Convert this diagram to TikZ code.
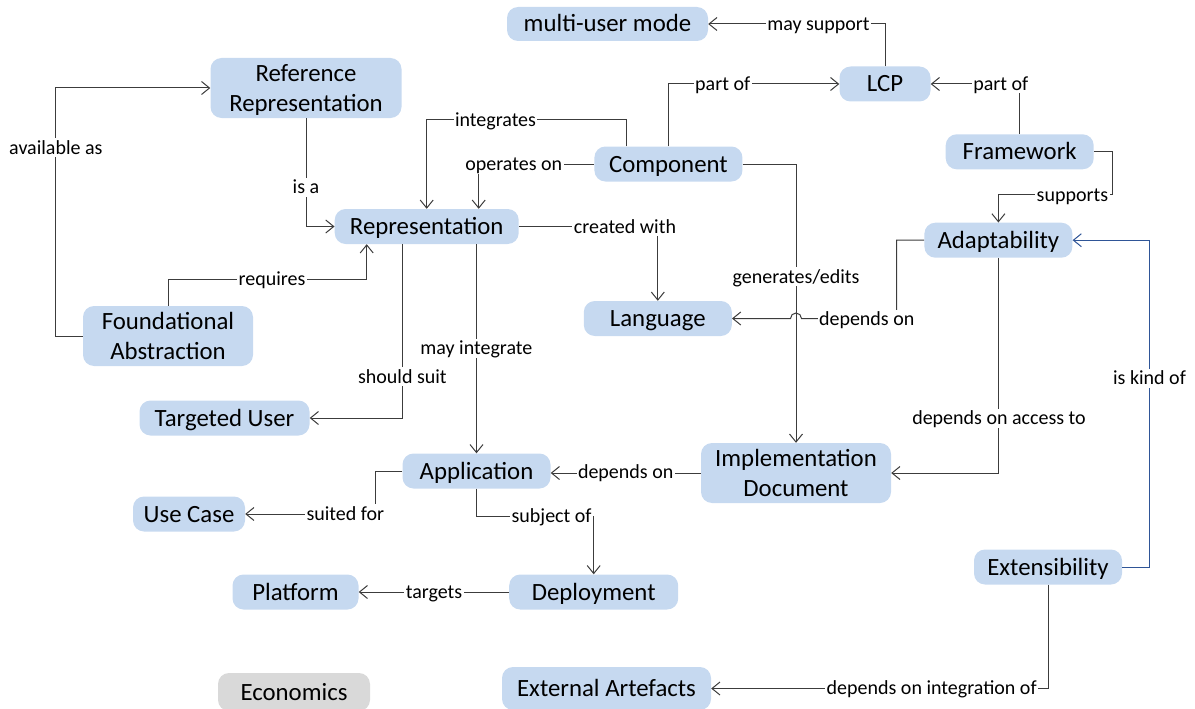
\documentclass[tikz,border=0pt]{standalone}
\usepackage{fontspec}
\setmainfont{Carlito}
\usetikzlibrary{arrows.meta,calc}
\definecolor{nodeblue}{RGB}{198,217,240}
\definecolor{ecogray}{RGB}{217,217,217}
\definecolor{edgegray}{RGB}{60,60,60}
\definecolor{edgeblue}{RGB}{47,85,151}
\newcommand\tstrut{\rule{0pt}{23pt}}
\newcommand\bstrut{\rule[-6pt]{0pt}{6pt}}
\begin{document}
\begin{tikzpicture}[x=1pt,y=-1pt,
  box/.style={fill=nodeblue, rounded corners=11pt, inner sep=0pt, align=center,
    font=\fontsize{24.8}{30}\selectfont, minimum height=35pt, minimum width=148pt},
  one/.style={text height=20pt, text depth=4pt},
  two/.style={minimum height=60pt},
  lbl/.style={fill=white, inner xsep=1.5pt, inner ysep=1pt, text height=15pt, text depth=2pt,
    font=\fontsize{20}{24}\selectfont, text=black},
  arr/.style={draw=edgegray, line width=1pt, -{Straight Barb[length=8pt,width=13pt]}},
  barr/.style={draw=edgeblue, line width=1pt, -{Straight Barb[length=8pt,width=13pt]}}
]
\useasboundingbox (0,0) rectangle (1195,709);

% nodes
\node[box,one,minimum width=201pt,minimum height=34pt] (mum) at (607.5,24) {multi-user mode};
\node[box,two,minimum width=191pt] (refrep) at (306,88) {\tstrut Reference\\Representation\bstrut};
\node[box,one,minimum width=91pt] (lcp) at (885,84) {LCP};
\node[box,one] (comp) at (668.4,164) {Component};
\node[box,one] (fw) at (1019.7,151.8) {Framework};
\node[box,one,minimum width=184pt] (rep) at (426.7,226.5) {Representation};
\node[box,one] (adapt) at (998.4,240.2) {Adaptability};
\node[box,one] (lang) at (657.8,318.5) {Language};
\node[box,two,minimum width=170pt] (fa) at (168,336) {\tstrut Foundational\\Abstraction\bstrut};
\node[box,one,minimum width=170pt] (tu) at (224.5,418) {Targeted User};
\node[box,one] (app) at (476.5,471) {Application};
\node[box,one,minimum width=112pt] (uc) at (189,514) {Use Case};
\node[box,two,minimum width=190pt] (impl) at (796,473) {\tstrut Implementation\\Document\bstrut};
\node[box,one] (ext) at (1048,567) {Extensibility};
\node[box,one,minimum width=126pt] (plat) at (295.5,592) {Platform};
\node[box,one,minimum width=169pt] (deploy) at (593.7,592) {Deployment};
\node[box,one,minimum width=152pt,minimum height=38pt,fill=ecogray] (eco) at (294,692) {Economics};
\node[box,one,minimum width=209pt,minimum height=43pt] (ea) at (606.5,688.5) {External Artefacts};

% connectors
\draw[arr] (lcp.north) |- (mum.east) node[lbl] at (818.5,24) {may support};
\draw[arr] (comp.north) |- (lcp.west) node[lbl] at (722.7,84) {part of};
\draw[arr] (fw.north) |- (lcp.east) node[lbl] at (1000.8,84) {part of};
\draw[arr] (fw.east) -- ++(19,0) |- ($(adapt.north)+(0,-27.7)$) -- (adapt.north)
  node[lbl] at (1072.4,195) {supports};
\draw[arr] ($(comp.north)+(-42.4,0)$) -- ++(0,-27) -| (rep.north)
  node[lbl] at (495.5,120) {integrates};
\draw[arr] (comp.west) -| ($(rep.north)+(52,0)$) node[lbl] at (513.8,164.3) {operates on};
\draw[arr] (refrep.south) |- (rep.west) node[lbl] at (306,187) {is a};
\draw[arr] (fa.west) -- ++(-27,0) |- (refrep.west) node[lbl] at (55.9,147.7) {available as};
\draw[arr] (fa.north) |- ($(rep.south)+(-60,35)$) -- ($(rep.south)+(-60,0)$)
  node[lbl] at (272,279) {requires};
\draw[arr] (rep.east) -| (lang.north) node[lbl] at (625,226.5) {created with};
\draw[arr] (comp.east) -| (impl.north) node[lbl] at (796,276.7) {generates/edits};
\draw[arr] (adapt.west) -- ++(-27.5,0) |- (801.5,318.5) arc (0:-180:5.5) -- (lang.east)
  node[lbl] at (866.7,319) {depends on};
\draw[arr] ($(rep.south)+(-24.7,0)$) |- (tu.east) node[lbl] at (402.4,376.7) {should suit};
\draw[arr] (rep.south -| app.north) -- (app.north) node[lbl] at (476.4,348.3) {may integrate};
\draw[arr] (adapt.south) |- (impl.east) node[lbl] at (999,418.3) {depends on access to};
\draw[arr] (impl.west) -- (impl.west -| app.east) node[lbl] at (625.7,472) {depends on};
\draw[arr] (app.west) -- ++(-26.6,0) |- (uc.east) node[lbl] at (345.3,513.5) {suited for};
\draw[arr] (app.south) |- ($(deploy.north)+(0,-58)$) -- (deploy.north)
  node[lbl] at (551.6,516) {subject of};
\draw[arr] (deploy.west) -- (plat.east) node[lbl] at (434,592) {targets};
\draw[barr] (ext.east) -- ++(27,0) |- (adapt.east) node[lbl] at (1149.5,378) {is kind of};
\draw[arr] (ext.south) |- (ea.east) node[lbl] at (931.7,688) {depends on integration of};
\end{tikzpicture}
\end{document}
